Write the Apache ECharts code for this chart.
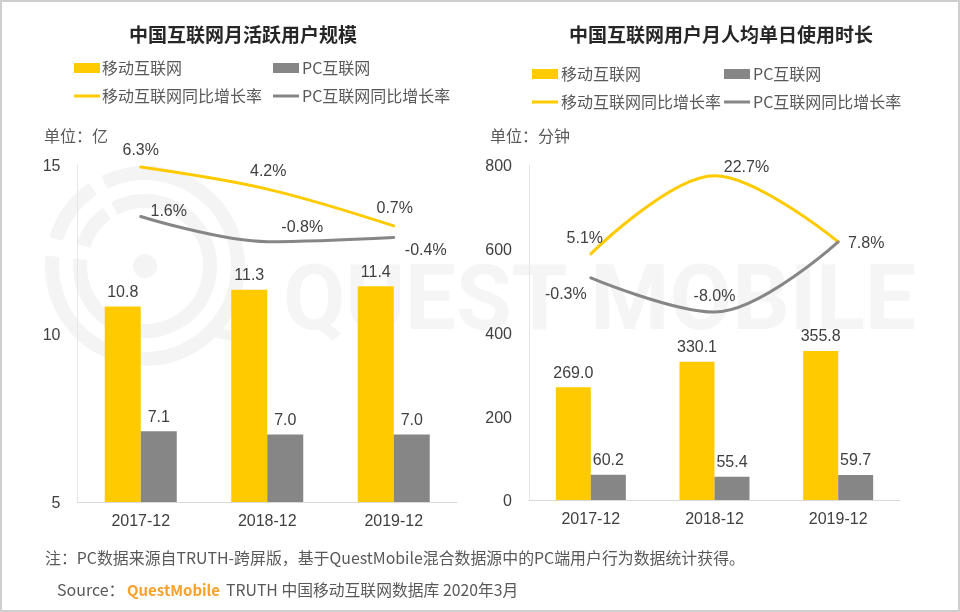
<!DOCTYPE html>
<html>
<head>
<meta charset="utf-8">
<style>html,body{margin:0;padding:0;background:#fff}#chart{width:960px;height:612px}</style>
<script src="https://cdn.jsdelivr.net/npm/echarts@6/dist/echarts.min.js"></script>
</head>
<body>
<div id="chart"></div>
<script>
var categories = ['2017-12', '2018-12', '2019-12'];

// 左图：月活跃用户规模（亿）
var mauMobile = [10.8, 11.3, 11.4];
var mauPc = [7.1, 7.0, 7.0];
var mauMobileRate = [6.3, 4.2, 0.7];
var mauPcRate = [1.6, -0.8, -0.4];

// 右图：人均单日使用时长（分钟）
var timeMobile = [269.0, 330.1, 355.8];
var timePc = [60.2, 55.4, 59.7];
var timeMobileRate = [5.1, 22.7, 7.8];
var timePcRate = [-0.3, -8.0, 7.8];

var cjk = '"Noto Sans CJK SC", sans-serif';
var latin = '"Liberation Sans", Arial, sans-serif';
var yellow = '#FFCB00';
var gray = '#868686';
var textColor = '#595959';
var numColor = '#404040';

// 折线标签相对数据点的偏移
function rateData(values, offsets) {
    return values.map(function (v, i) {
        if (!offsets[i]) {
            return { value: v, label: { show: false } };
        }
        return { value: v, label: { offset: offsets[i] } };
    });
}

function barSeries(name, color, values, axisIndex, barWidth) {
    return {
        name: name,
        type: 'bar',
        xAxisIndex: axisIndex,
        yAxisIndex: axisIndex * 2,
        data: values,
        barWidth: barWidth,
        barGap: 0,
        itemStyle: { color: color },
        label: {
            show: true,
            position: 'top',
            distance: 6,
            fontFamily: latin,
            fontSize: 16,
            color: numColor,
            formatter: function (p) { return p.value.toFixed(1); }
        }
    };
}

function lineSeries(name, color, values, offsets, axisIndex) {
    return {
        name: name,
        type: 'line',
        xAxisIndex: axisIndex,
        yAxisIndex: axisIndex * 2 + 1,
        data: rateData(values, offsets),
        smooth: 0.35,
        symbol: 'circle',
        symbolSize: 1,
        z: 5,
        lineStyle: { color: color, width: 3, cap: 'round' },
        itemStyle: { color: color },
        label: {
            show: true,
            position: 'inside',
            fontFamily: latin,
            fontSize: 16,
            color: numColor,
            formatter: function (p) { return p.value.toFixed(1) + '%'; }
        }
    };
}

function legendItem(name, left, top, isLine, textGap) {
    return {
        data: [{ name: name, icon: 'rect' }],
        left: left,
        top: top,
        padding: 0,
        itemWidth: 26,
        itemHeight: isLine ? 3 : 10,
        itemGap: 0,
        selectedMode: false,
        textStyle: { fontFamily: cjk, fontSize: 16, color: textColor, padding: [0, 0, 0, textGap] }
    };
}

function xAxis(gridIndex) {
    return {
        type: 'category',
        gridIndex: gridIndex,
        data: categories,
        axisTick: { show: false },
        axisLine: { onZero: false, lineStyle: { color: '#d9d9d9', width: 1 } },
        axisLabel: { fontFamily: latin, fontSize: 16, color: numColor, margin: 12 }
    };
}

function valueAxis(gridIndex, min, max, interval) {
    return {
        type: 'value',
        gridIndex: gridIndex,
        min: min,
        max: max,
        interval: interval,
        splitLine: { show: false },
        axisTick: { show: false },
        axisLine: { show: true, lineStyle: { color: '#e6e6e6', width: 1 } },
        axisLabel: {
            margin: 17,
            formatter: '{tick|{value}}',
            rich: { tick: { fontFamily: latin, fontSize: 16, color: numColor, padding: [4, 0, 0, 0] } }
        }
    };
}

function rateAxis(gridIndex, min, max) {
    return { type: 'value', gridIndex: gridIndex, min: min, max: max, show: false, splitLine: { show: false } };
}

function plainText(text, x, y, size, color, extra) {
    return {
        type: 'text',
        z: 10,
        style: Object.assign({
            text: text,
            x: x,
            y: y,
            fontFamily: cjk,
            fontSize: size,
            fill: color,
            textVerticalAlign: 'middle'
        }, extra || {})
    };
}

// 水印的环形
function ring(r, start, end) {
    return {
        type: 'arc',
        z: -5,
        shape: { cx: 145, cy: 266, r: r, startAngle: start * Math.PI / 180, endAngle: end * Math.PI / 180, clockwise: true },
        style: { stroke: '#f4f4f4', lineWidth: 14, fill: 'none' }
    };
}

var graphicItems = [
    { type: 'rect', z: -6, shape: { x: 1, y: 1, width: 958, height: 610 }, style: { fill: '#fff', stroke: '#cfcfcf', lineWidth: 2 } },
    ring(93, 244, 546), ring(93, 197, 236),
    ring(65, 242, 546), ring(65, 198, 234),
    { type: 'circle', z: -5, shape: { cx: 145, cy: 266, r: 12 }, style: { fill: '#f4f4f4' } },
    { type: 'line', z: -5, shape: { x1: 205, y1: 330, x2: 232, y2: 336 }, style: { stroke: '#f4f4f4', lineWidth: 10 } },
    { type: 'text', z: -5, style: { text: 'QUEST MOBILE', x: 283, y: 306, fontFamily: 'Roboto, sans-serif', fontSize: 90.5, fontWeight: 700, fill: '#f5f5f5', textVerticalAlign: 'middle' } },

    plainText('中国互联网月活跃用户规模', 243, 35, 19, '#262626', { fontWeight: 'bold', textAlign: 'center' }),
    plainText('中国互联网用户月人均单日使用时长', 721, 35, 19, '#262626', { fontWeight: 'bold', textAlign: 'center' }),
    plainText('单位：亿', 44, 136, 16, textColor),
    plainText('单位：分钟', 490, 136, 16, textColor),
    plainText('注：PC数据来源自TRUTH-跨屏版，基于QuestMobile混合数据源中的PC端用户行为数据统计获得。', 45, 558, 15.9, textColor),
    plainText('Source：', 57, 590, 16, textColor),
    plainText('QuestMobile', 127, 590, 15, '#F7A12B', { fontWeight: 'bold' }),
    plainText('TRUTH 中国移动互联网数据库 2020年3月', 226, 590, 15.8, textColor)
];

var option = {
    animation: false,
    backgroundColor: '#fff',
    graphic: { elements: graphicItems },
    legend: [
        legendItem('移动互联网', 74, 60, false, -3),
        legendItem('PC互联网', 273, 60, false, -2),
        legendItem('移动互联网同比增长率', 74, 88, true, -3),
        legendItem('PC互联网同比增长率', 273, 88, true, -2),
        legendItem('移动互联网', 532, 66, false, -2),
        legendItem('PC互联网', 724, 66, false, -2),
        legendItem('移动互联网同比增长率', 532, 94, true, -2),
        legendItem('PC互联网同比增长率', 724, 94, true, -2)
    ],
    grid: [
        { left: 77.5, right: 503, top: 165, bottom: 110 },
        { left: 529, right: 60, top: 165, bottom: 112 }
    ],
    xAxis: [xAxis(0), xAxis(1)],
    yAxis: [
        valueAxis(0, 5, 15, 5),
        rateAxis(0, -25.6, 6.5),
        valueAxis(1, 0, 800, 200),
        rateAxis(1, -50.3, 25.1)
    ],
    series: [
        barSeries('移动互联网', yellow, mauMobile, 0, 36),
        barSeries('PC互联网', gray, mauPc, 0, 36),
        lineSeries('移动互联网同比增长率', yellow, mauMobileRate, [[0, -17], [1, -18], [1, -17]], 0),
        lineSeries('PC互联网同比增长率', gray, mauPcRate, [[28, -5], [35, -14], [32, 13]], 0),
        barSeries('移动互联网', yellow, timeMobile, 1, 35),
        barSeries('PC互联网', gray, timePc, 1, 35),
        lineSeries('移动互联网同比增长率', yellow, timeMobileRate, [[-6, -15], [32, -8], [28, 2]], 1),
        lineSeries('PC互联网同比增长率', gray, timePcRate, [[-25, 17], [0, -15], null], 1)
    ]
};

var chart = echarts.init(document.getElementById('chart'));
chart.setOption(option);
</script>
</body>
</html>
